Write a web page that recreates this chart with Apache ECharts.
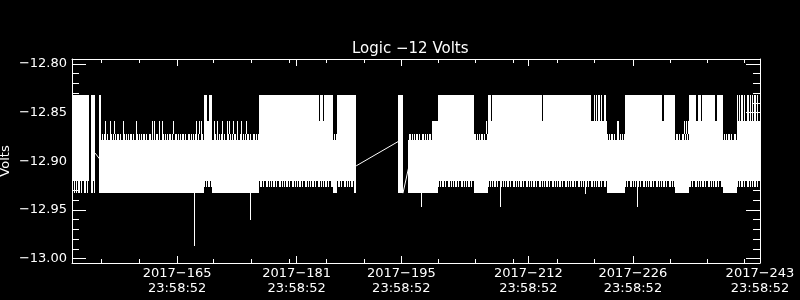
<!DOCTYPE html>
<html><head><meta charset="utf-8">
<script src="https://cdn.jsdelivr.net/npm/echarts@6/dist/echarts.min.js"></script>
<style>html,body{margin:0;padding:0;background:#000;}#c{width:800px;height:300px;}</style>
</head><body><div id="c"></div>
<script>
// ---------- text ----------
const chartTitle = 'Logic \u221212 Volts';
const yAxisName = 'Volts';

// ---------- axes (x in fractional day-of-year 2017, y in volts) ----------
const xMin = 151.93, xMax = 243.99921;
const yMin = -13.0046, yMax = -12.795;
const xMajorTicks = [165.99921, 181.99921, 195.99921, 212.99921, 226.99921, 243.99921];
const xTickLabels = ['2017\u2212165\n23:58:52', '2017\u2212181\n23:58:52', '2017\u2212195\n23:58:52',
                     '2017\u2212212\n23:58:52', '2017\u2212226\n23:58:52', '2017\u2212243\n23:58:52'];
const xMinorTicks = [155.86, 160.87, 170.88, 175.88, 180.94, 185.89, 191.02, 200.91, 205.91,
                     210.92, 216.91, 221.86, 231.93, 237.00, 241.94];
const yMajorTicks = [-13.00, -12.95, -12.90, -12.85, -12.80];
const yMinorTicks = [-12.99, -12.98, -12.97, -12.96, -12.94, -12.93, -12.92, -12.91,
                     -12.89, -12.88, -12.87, -12.86, -12.84, -12.83, -12.82, -12.81];

// ---------- quantised voltage levels seen in the trace ----------
const L1 = -12.8317, L2 = -12.8585, L3 = -12.8722, L4 = -12.8781,
      L5 = -12.9203, L6 = -12.9264, L7 = -12.9329;

// ---------- solid envelope of the dense trace ----------
const bandStart = [152.00,154.47,155.61,155.81,169.53,169.93,170.20,170.60,176.95,185.05,185.18,185.49,185.63,186.92,187.33,189.73,
                   195.62,196.89,200.11,200.88,205.66,207.57,207.57,208.16,214.93,219.71,221.72,223.59,226.00,226.00,231.09,232.56,
                   234.56,234.56,235.64,236.30,238.18,239.02,240.89];
const bandEnd   = [154.20,155.01,155.81,169.53,169.93,170.20,170.60,176.95,185.05,185.18,185.49,185.63,186.92,187.33,189.96,189.96,
                   196.16,200.11,200.88,205.66,207.57,221.72,208.03,214.80,219.58,221.41,223.59,226.00,232.56,230.95,232.56,234.56,
                   239.02,235.50,236.17,238.04,239.02,240.89,243.99];
const bandHigh  = [L1,L1,L1,L4,L1,L2,L1,L4,L1,L2,L1,L2,L1,L4,L1,L5,
                   L1,L4,L2,L1,L4,L2,L1,L1,L1,L1,L2,L4,L2,L1,L1,L4,
                   L2,L1,L1,L1,L1,L4,L2];
const bandLow   = [L5,L5,L7,L7,L5,L5,L5,L7,L5,L5,L5,L5,L5,L7,L5,L7,
                   L7,L7,L7,L5,L7,L5,L2,L2,L2,L2,L5,L7,L5,L2,L2,L7,
                   L5,L2,L2,L2,L2,L7,L5];

// ---------- partly filled (flickering) fringes of the trace ----------
const combStart = [152.00,154.47,155.81,169.53,170.60,176.95,186.92,187.33,196.89,200.88,205.66,207.57,221.72,223.59,226.00,232.56,234.56,239.02,240.89,240.89];
const combEnd   = [154.20,155.01,169.53,170.60,176.95,186.92,187.33,189.73,200.11,205.66,207.57,223.59,223.59,226.00,232.56,234.56,239.02,240.89,243.99,243.99];
const combHigh  = [L5,L5,L3,L5,L3,L5,L3,L5,L3,L5,L3,L5,L1,L3,L5,L3,L5,L3,L5,L1];
const combLow   = [L7,L7,L4,L6,L4,L6,L4,L6,L4,L6,L4,L6,L2,L4,L6,L4,L6,L4,L6,L2];

// ---------- isolated excursions (single samples) ----------
const lineTime = [156.41,157.02,157.55,158.82,160.43,162.64,162.84,163.51,164.04,165.51,168.59,168.93,169.13,170.93,171.27,172.00,
                  172.61,172.94,173.48,174.01,174.55,175.22,207.33,224.86,225.00,233.83,234.03,234.30,
                  168.23,175.71,198.67,209.27,220.57,227.51];
const lineTop  = [L2,L2,L2,L2,L2,L2,L2,L2,L2,L2,L2,L2,L2,L2,L2,L2,
                  L2,L2,L2,L2,L2,L2,L2,L2,L2,L2,L2,L2,
                  L7,L7,L7,L6,L6,L6];
const lineBottom = [L3,L3,L3,L3,L3,L3,L3,L3,L3,L3,L3,L3,L3,L3,L3,L3,
                  L3,L3,L3,L3,L3,L3,L3,L3,L3,L3,L3,L3,
                  -12.9872,-12.9604,-12.9467,-12.9467,-12.9336,-12.9467];

// ---------- straight joins across data gaps ----------
const gap1Time = [155.03, 155.61], gap1Volt = [-12.8917, -12.8976];
const gap2Time = [189.96, 195.58], gap2Volt = [-12.9048, -12.8798];
const gap3Time = [196.22, 196.96], gap3Volt = [-12.9329, -12.9072];

// ---------- build ----------
const FONT = 'DejaVu Sans';
const WHITE = '#ffffff';
function stripes(bits) {
  const c = document.createElement('canvas');
  c.width = bits.length; c.height = 4;
  const g = c.getContext('2d');
  g.fillStyle = WHITE;
  bits.forEach((b, i) => { if (b) g.fillRect(i, 0, 1, 4); });
  return { image: c, repeat: 'repeat' };
}
const combFill = stripes([1,1,0,1,0,0,1,1,0,1,0,1,0]);

function rectItem(fill) {
  return function (params, api) {
    const p0 = api.coord([api.value(0), api.value(2)]);
    const p1 = api.coord([api.value(1), api.value(3)]);
    let x0 = Math.round(p0[0]), x1 = Math.round(p1[0]);
    if (x1 - x0 < 1) x1 = x0 + 1;
    const y0 = Math.round(p0[1]), y1 = Math.round(p1[1]);
    return { type: 'rect', shape: { x: x0, y: y0, width: x1 - x0, height: Math.max(1, y1 - y0) },
             style: { fill: fill }, silent: true };
  };
}
function lineItem(params, api) {
  const p0 = api.coord([api.value(0), api.value(1)]);
  const p1 = api.coord([api.value(0), api.value(2)]);
  const x = Math.round(p0[0]);
  const y0 = Math.round(Math.min(p0[1], p1[1])), y1 = Math.round(Math.max(p0[1], p1[1]));
  return { type: 'rect', shape: { x: x, y: y0, width: 1, height: Math.max(1, y1 - y0) }, style: { fill: WHITE }, silent: true };
}

const bandData = bandStart.map((s, i) => [s, bandEnd[i], bandHigh[i], bandLow[i]]);
const combData = combStart.map((s, i) => [s, combEnd[i], combHigh[i], combLow[i]]);
const lineData = lineTime.map((t, i) => [t, lineTop[i], lineBottom[i]]);
const gapSeries = [[gap1Time, gap1Volt], [gap2Time, gap2Volt], [gap3Time, gap3Volt]].map(([t, v]) => ({
  type: 'line', xAxisIndex: 0, yAxisIndex: 0, symbol: 'none', silent: true,
  lineStyle: { color: WHITE, width: 1 }, data: t.map((x, i) => [x, v[i]])
}));

const xBase = { type: 'value', min: xMin, max: xMax, splitLine: { show: false },
  axisLine: { onZero: false, lineStyle: { color: WHITE, width: 1 } } };
const yBase = { type: 'value', min: yMin, max: yMax, splitLine: { show: false },
  axisLine: { onZero: false, lineStyle: { color: WHITE, width: 1 } } };
function tick(vals, len) { return { show: true, inside: true, length: len, customValues: vals, lineStyle: { color: WHITE, width: 1 } }; }

const option = {
  backgroundColor: '#000000',
  animation: false,
  title: { text: chartTitle, left: 347, top: 37,
    textStyle: { color: WHITE, fontFamily: FONT, fontSize: 15, fontWeight: 'normal' } },
  grid: { left: 72, right: 40, top: 59, bottom: 37, containLabel: false, outerBoundsMode: 'none' },
  xAxis: [
    Object.assign({}, xBase, { position: 'bottom', axisTick: tick(xMajorTicks, 7),
      axisLabel: { customValues: xMajorTicks, color: WHITE, fontFamily: FONT, fontSize: 13, lineHeight: 15, margin: 3,
        hideOverlap: false,
        formatter: v => { const i = xMajorTicks.findIndex(t => Math.abs(t - v) < 1e-6); return i >= 0 ? xTickLabels[i] : ''; } } }),
    Object.assign({}, xBase, { position: 'top', axisTick: tick(xMajorTicks, 7), axisLabel: { show: false } }),
    Object.assign({}, xBase, { position: 'bottom', axisLine: { show: false }, axisTick: tick(xMinorTicks, 4), axisLabel: { show: false } }),
    Object.assign({}, xBase, { position: 'top', axisLine: { show: false }, axisTick: tick(xMinorTicks, 4), axisLabel: { show: false } })
  ],
  yAxis: [
    Object.assign({}, yBase, { position: 'left', axisTick: tick(yMajorTicks, 14),
      axisLabel: { customValues: yMajorTicks, color: WHITE, fontFamily: FONT, fontSize: 13, margin: 5,
        formatter: v => v.toFixed(2).replace('-', '\u2212') },
      name: yAxisName, nameLocation: 'middle', nameGap: 60, nameMoveOverlap: false,
      nameTextStyle: { color: WHITE, fontFamily: FONT, fontSize: 13 } }),
    Object.assign({}, yBase, { position: 'right', axisTick: tick(yMajorTicks, 14), axisLabel: { show: false } }),
    Object.assign({}, yBase, { position: 'left', axisLine: { show: false }, axisTick: tick(yMinorTicks, 7), axisLabel: { show: false } }),
    Object.assign({}, yBase, { position: 'right', axisLine: { show: false }, axisTick: tick(yMinorTicks, 7), axisLabel: { show: false } })
  ],
  series: [
    { type: 'custom', name: 'band', xAxisIndex: 0, yAxisIndex: 0, clip: true, silent: true,
      encode: { x: [0, 1], y: [2, 3] }, renderItem: rectItem(WHITE), data: bandData },
    { type: 'custom', name: 'fringe', xAxisIndex: 0, yAxisIndex: 0, clip: true, silent: true,
      encode: { x: [0, 1], y: [2, 3] }, renderItem: rectItem(combFill), data: combData },
    { type: 'custom', name: 'excursions', xAxisIndex: 0, yAxisIndex: 0, clip: true, silent: true,
      encode: { x: 0, y: [1, 2] }, renderItem: lineItem, data: lineData }
  ].concat(gapSeries)
};
const chart = echarts.init(document.getElementById('c'), null, { renderer: 'canvas' });
chart.setOption(option);
</script>
</body></html>
